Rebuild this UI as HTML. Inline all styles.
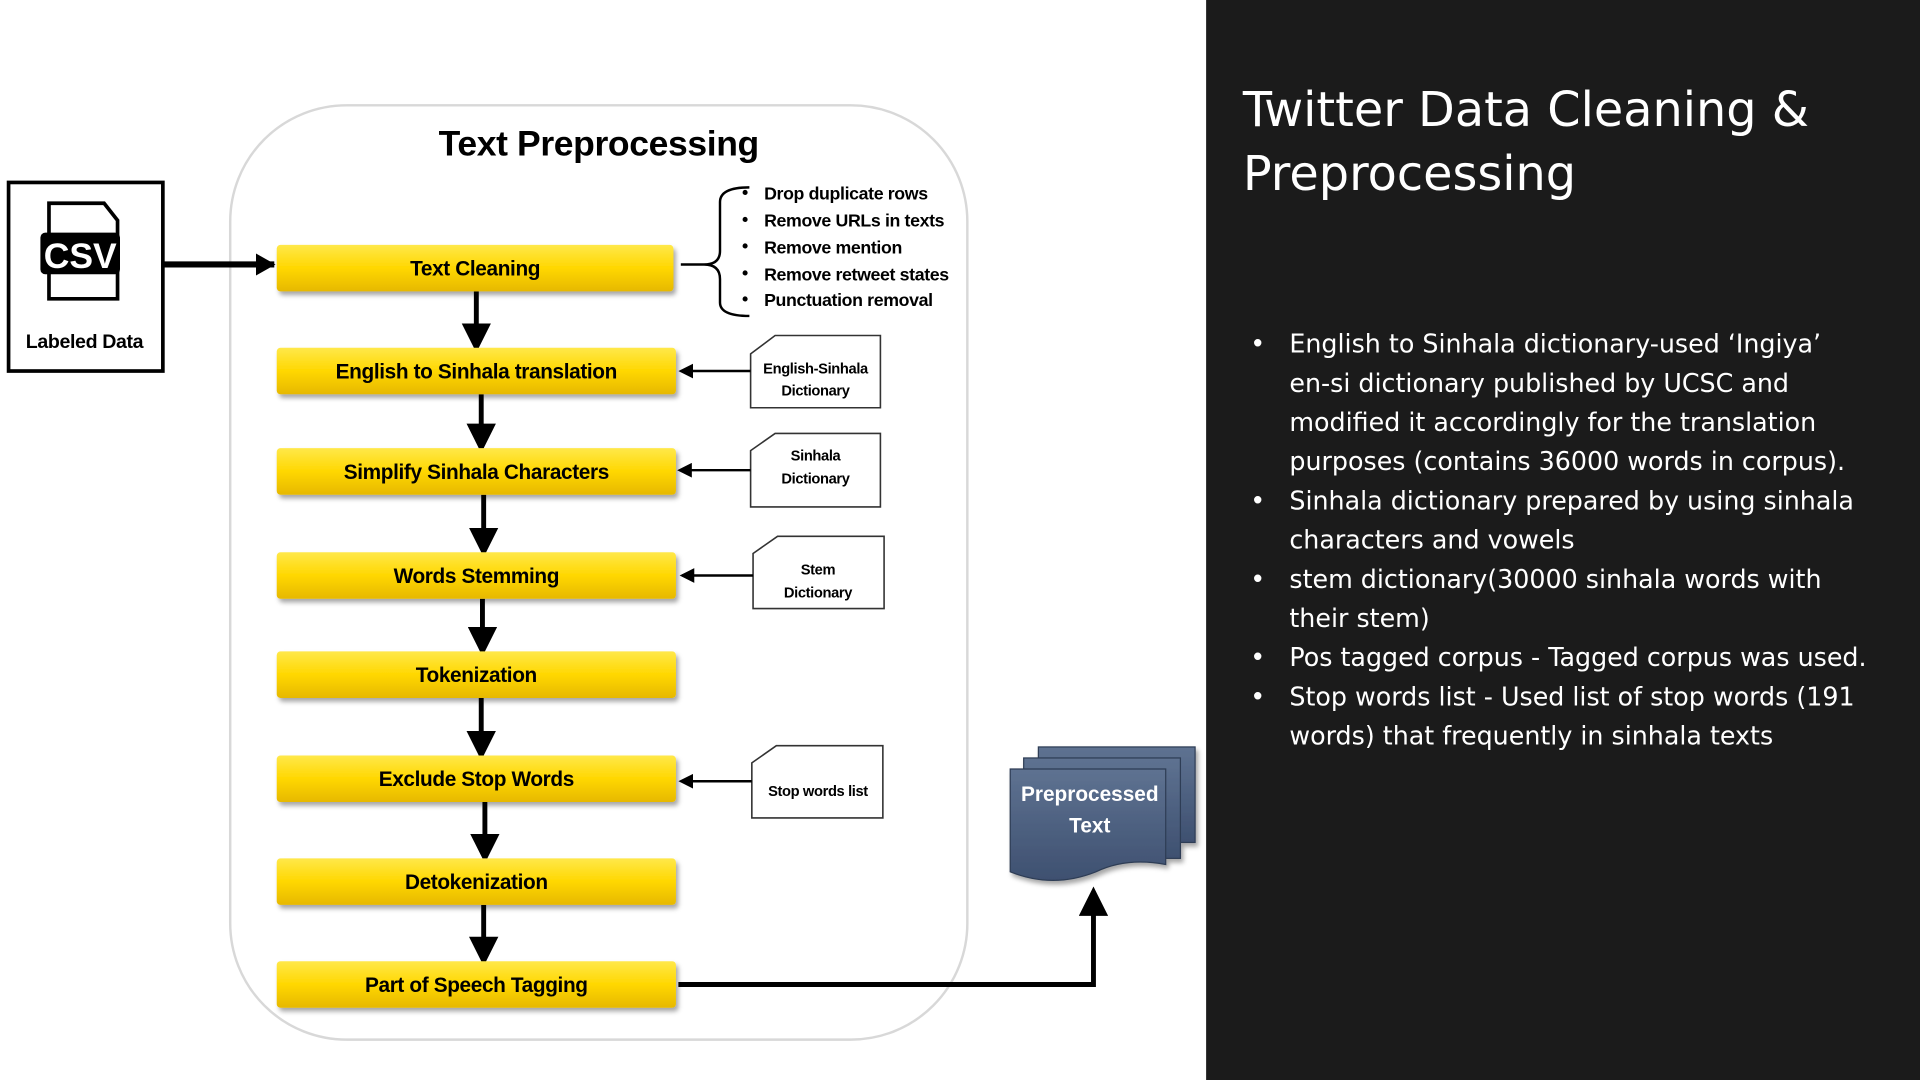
<!DOCTYPE html>
<html><head><meta charset="utf-8"><style>
html,body{margin:0;padding:0;background:#fff;width:1920px;height:1080px;overflow:hidden}
svg{display:block}
.d{font-family:"Liberation Sans",sans-serif;font-weight:bold;fill:#000;letter-spacing:-0.3px}
.r{font-family:"DejaVu Sans","Liberation Sans",sans-serif;fill:#fff}
</style></head><body>
<svg width="1920" height="1080" viewBox="0 0 1568 882" xmlns="http://www.w3.org/2000/svg">
<defs>
<marker id="ah" markerWidth="6" markerHeight="6" refX="5" refY="3" orient="auto" markerUnits="strokeWidth"><path d="M0,0 L6,3 L0,6 z" fill="#000"/></marker>
<marker id="ah2" markerWidth="16" markerHeight="18" refX="15" refY="9" orient="auto" markerUnits="userSpaceOnUse"><path d="M0,0 L16,9 L0,18 z" fill="#000"/></marker>
<linearGradient id="yg" x1="0" y1="0" x2="0" y2="1"><stop offset="0" stop-color="#ffe84a"/><stop offset="0.5" stop-color="#ffd700"/><stop offset="1" stop-color="#e6b800"/></linearGradient>
<linearGradient id="bg" x1="0" y1="0" x2="0" y2="1"><stop offset="0" stop-color="#5e7291"/><stop offset="1" stop-color="#3e5070"/></linearGradient>
<filter id="sh"><feDropShadow dx="2" dy="3" stdDeviation="2" flood-opacity="0.35"/></filter>
</defs>
<rect x="985" y="0" width="583" height="882" fill="#1b1b1b"/>
<text class="r" x="1015" y="103" font-size="39">Twitter Data Cleaning &amp;</text>
<text class="r" x="1015" y="155" font-size="39">Preprocessing</text>
<g class="r" font-size="20.7">
<text x="1021" y="288">•</text><text x="1053" y="288">English to Sinhala dictionary-used ‘Ingiya’</text>
<text x="1053" y="320">en-si dictionary published by UCSC and</text>
<text x="1053" y="352">modified it accordingly for the translation</text>
<text x="1053" y="384">purposes (contains 36000 words in corpus).</text>
<text x="1021" y="416">•</text><text x="1053" y="416">Sinhala dictionary prepared by using sinhala</text>
<text x="1053" y="448">characters and vowels</text>
<text x="1021" y="480">•</text><text x="1053" y="480">stem dictionary(30000 sinhala words with</text>
<text x="1053" y="512">their stem)</text>
<text x="1021" y="544">•</text><text x="1053" y="544">Pos tagged corpus - Tagged corpus was used.</text>
<text x="1021" y="576">•</text><text x="1053" y="576">Stop words list - Used list of stop words (191</text>
<text x="1053" y="608">words) that frequently in sinhala texts</text>
</g>
<rect x="188" y="86" width="602" height="763" rx="95" fill="#fff" stroke="#d8d8d8" stroke-width="2"/>
<text class="d" x="489" y="127" font-size="29" text-anchor="middle">Text Preprocessing</text>
<rect x="7" y="149" width="126" height="154" fill="#fff" stroke="#000" stroke-width="3"/>
<path d="M40,166 h45 l11,14 v64 h-56 z" fill="#fff" stroke="#000" stroke-width="3"/>
<rect x="33" y="190" width="65" height="34" rx="4" fill="#000"/>
<text x="65.5" y="219" font-family="Liberation Sans" font-weight="bold" font-size="29" fill="#fff" text-anchor="middle">CSV</text>
<text class="d" x="69" y="284" font-size="16" text-anchor="middle">Labeled Data</text>
<line x1="134" y1="216" x2="224" y2="216" stroke="#000" stroke-width="5" marker-end="url(#ah2)"/>
<g stroke="#000" stroke-width="5" fill="none">
<line x1="389" y1="238" x2="389" y2="284" marker-end="url(#ah)" stroke-width="4"/>
<line x1="393" y1="322" x2="393" y2="366" marker-end="url(#ah)" stroke-width="4"/>
<line x1="395" y1="404" x2="395" y2="451" marker-end="url(#ah)" stroke-width="4"/>
<line x1="394" y1="489" x2="394" y2="532" marker-end="url(#ah)" stroke-width="4"/>
<line x1="393" y1="570" x2="393" y2="617" marker-end="url(#ah)" stroke-width="4"/>
<line x1="396" y1="655" x2="396" y2="701" marker-end="url(#ah)" stroke-width="4"/>
<line x1="395" y1="739" x2="395" y2="785" marker-end="url(#ah)" stroke-width="4"/>
<polyline points="554,804 893,804 893,728" stroke-width="4" marker-end="url(#ah)"/>
</g>
<g filter="url(#sh)">
<rect x="226" y="200" width="324" height="38" rx="3" fill="url(#yg)"/>
<rect x="226" y="284" width="326" height="38" rx="3" fill="url(#yg)"/>
<rect x="226" y="366" width="326" height="38" rx="3" fill="url(#yg)"/>
<rect x="226" y="451" width="326" height="38" rx="3" fill="url(#yg)"/>
<rect x="226" y="532" width="326" height="38" rx="3" fill="url(#yg)"/>
<rect x="226" y="617" width="326" height="38" rx="3" fill="url(#yg)"/>
<rect x="226" y="701" width="326" height="38" rx="3" fill="url(#yg)"/>
<rect x="226" y="785" width="326" height="38" rx="3" fill="url(#yg)"/>
</g>
<g class="d" font-size="17" text-anchor="middle">
<text x="388" y="225">Text Cleaning</text>
<text x="389" y="309">English to Sinhala translation</text>
<text x="389" y="391">Simplify Sinhala Characters</text>
<text x="389" y="476">Words Stemming</text>
<text x="389" y="557">Tokenization</text>
<text x="389" y="642">Exclude Stop Words</text>
<text x="389" y="726">Detokenization</text>
<text x="389" y="810">Part of Speech Tagging</text>
</g>
<path d="M612,153 Q588,153 588,165 V205 Q588,216 575,216 H556 M575,216 Q588,216 588,228 V247 Q588,258 612,258" fill="none" stroke="#000" stroke-width="2"/>
<g class="d" font-size="14.5" font-weight="normal">
<text x="606" y="162" font-weight="bold">•</text><text x="624" y="163">Drop duplicate rows</text>
<text x="606" y="184" font-weight="bold">•</text><text x="624" y="185">Remove URLs in texts</text>
<text x="606" y="206" font-weight="bold">•</text><text x="624" y="207">Remove mention</text>
<text x="606" y="228" font-weight="bold">•</text><text x="624" y="229">Remove retweet states</text>
<text x="606" y="249" font-weight="bold">•</text><text x="624" y="250">Punctuation removal</text>
</g>
<g fill="#fff" stroke="#333" stroke-width="1.3">
<path d="M613,289 L633,274 H719 V333 H613 Z"/>
<path d="M613,368 L633,354 H719 V414 H613 Z"/>
<path d="M615,452 L635,438 H722 V497 H615 Z"/>
<path d="M614,623 L634,609 H721 V668 H614 Z"/>
</g>
<g stroke="#000" stroke-width="2" fill="none">
<line x1="613" y1="303" x2="556" y2="303" marker-end="url(#ah)"/>
<line x1="613" y1="384" x2="555" y2="384" marker-end="url(#ah)"/>
<line x1="615" y1="470" x2="557" y2="470" marker-end="url(#ah)"/>
<line x1="614" y1="638" x2="556" y2="638" marker-end="url(#ah)"/>
</g>
<g class="d" font-size="12" text-anchor="middle" font-weight="normal">
<text x="666" y="305">English-Sinhala</text><text x="666" y="323">Dictionary</text>
<text x="666" y="376">Sinhala</text><text x="666" y="395">Dictionary</text>
<text x="668" y="469">Stem</text><text x="668" y="488">Dictionary</text>
<text x="668" y="650">Stop words list</text>
</g>
<g filter="url(#sh)" stroke="#2e3d55" stroke-width="1">
<rect x="848" y="610" width="128" height="78" fill="url(#bg)"/>
<rect x="836" y="619" width="128" height="82" fill="url(#bg)"/>
<path d="M825,628 H952 V706 Q920,700 895,712 Q860,726 825,712 Z" fill="url(#bg)"/>
</g>
<text x="890" y="654" font-family="Liberation Sans" font-weight="bold" font-size="17" fill="#fff" text-anchor="middle">Preprocessed</text>
<text x="890" y="680" font-family="Liberation Sans" font-weight="bold" font-size="17" fill="#fff" text-anchor="middle">Text</text>
</svg>
</body></html>
